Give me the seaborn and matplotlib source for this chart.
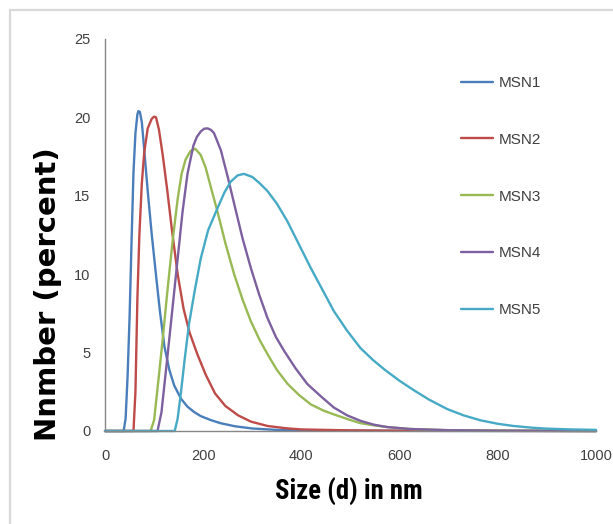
import matplotlib
matplotlib.use("Agg")
import matplotlib.pyplot as plt
import seaborn as sns
import pandas as pd
from matplotlib.patches import Rectangle
from matplotlib import font_manager

# ---- data ----
series_names = ["MSN1", "MSN2", "MSN3", "MSN4", "MSN5"]

msn1_x = [0, 38, 42, 46, 50, 54, 58, 62, 66, 68, 71, 75, 80, 87, 95, 104, 112, 121, 131,
          141, 155, 168, 182, 195, 215, 235, 265, 300, 350, 400, 500, 600, 800, 1000]
msn1_y = [0, 0, 0.8, 3.5, 7.2, 12.0, 16.5, 19.0, 20.2, 20.4, 20.35, 19.7, 17.9, 15.3, 12.6,
          9.9, 7.6, 5.4, 3.9, 2.9, 2.05, 1.55, 1.2, 0.95, 0.7, 0.5, 0.3, 0.16, 0.07, 0.04,
          0.02, 0.01, 0.0, 0.0]

msn2_x = [0, 58, 62, 66, 70, 75, 80, 87, 95, 100, 104, 110, 118, 127, 136, 148, 160, 172,
          188, 205, 224, 245, 271, 297, 331, 370, 400, 500, 600, 800, 1000]
msn2_y = [0, 0, 2.5, 8.5, 12.5, 15.8, 17.8, 19.3, 19.9, 20.05, 20.0, 19.2, 17.5, 15.3, 12.9,
          10.0, 7.8, 6.3, 4.9, 3.6, 2.4, 1.6, 1.0, 0.6, 0.32, 0.17, 0.1, 0.04, 0.02, 0.01,
          0.0]

msn3_x = [0, 93, 100, 110, 118, 127, 138, 148, 156, 164, 174, 184, 195, 205, 216, 229, 245,
          263, 280, 297, 315, 331, 350, 372, 395, 419, 445, 466, 495, 520, 550, 575, 620,
          700, 800, 1000]
msn3_y = [0, 0, 0.7, 3.6, 6.0, 8.9, 12.2, 14.8, 16.4, 17.3, 17.85, 18.0, 17.6, 16.8, 15.5,
          14.0, 12.0, 10.0, 8.4, 7.0, 5.8, 4.9, 3.9, 3.0, 2.3, 1.7, 1.3, 1.06, 0.75, 0.5,
          0.35, 0.25, 0.13, 0.05, 0.02, 0.0]

msn4_x = [0, 107, 115, 127, 138, 148, 158, 168, 180, 187, 195, 202, 209, 216, 222, 236, 250,
          263, 280, 297, 314, 331, 348, 365, 388, 412, 440, 466, 493, 521, 548, 575, 620,
          700, 800, 1000]
msn4_y = [0, 0, 1.2, 4.7, 8.0, 11.0, 14.0, 16.4, 18.2, 18.75, 19.1, 19.28, 19.3, 19.2, 19.0,
          17.9, 16.2, 14.5, 12.3, 10.4, 8.7, 7.2, 6.0, 5.1, 4.0, 3.0, 2.2, 1.5, 1.0, 0.64,
          0.4, 0.25, 0.13, 0.05, 0.02, 0.0]

msn5_x = [0, 142, 148, 155, 162, 171, 183, 195, 210, 229, 243, 256, 270, 283, 300, 315, 331,
          350, 371, 395, 419, 443, 466, 493, 520, 545, 570, 600, 629, 660, 697, 730, 765,
          800, 832, 870, 900, 950, 1000]
msn5_y = [0, 0, 0.8, 2.55, 4.5, 6.8, 9.0, 11.0, 12.8, 14.2, 15.2, 15.9, 16.3, 16.4, 16.2,
          15.8, 15.3, 14.5, 13.4, 11.9, 10.4, 9.0, 7.65, 6.4, 5.3, 4.55, 3.9, 3.2, 2.6, 2.0,
          1.4, 1.0, 0.68, 0.46, 0.32, 0.21, 0.15, 0.1, 0.07]

x_ticks = [0, 200, 400, 600, 800, 1000]
y_ticks = [0, 5, 10, 15, 20, 25]
colors = ["#4A7EBB", "#BE4B48", "#98B954", "#7D60A0", "#46AAC5"]

xs = [msn1_x, msn2_x, msn3_x, msn4_x, msn5_x]
ys = [msn1_y, msn2_y, msn3_y, msn4_y, msn5_y]
frames = []
for name, xv, yv in zip(series_names, xs, ys):
    frames.append(pd.DataFrame({"size": xv, "number": yv, "series": name}))
df = pd.concat(frames, ignore_index=True)

sns.set_style("white")
plt.rcParams["font.family"] = ["Liberation Sans", "DejaVu Sans"]


def first_font(cands):
    for c in cands:
        try:
            font_manager.findfont(font_manager.FontProperties(family=c),
                                  fallback_to_default=False)
            return c
        except Exception:
            continue
    return "DejaVu Sans"


narrow = first_font(["Liberation Sans Narrow", "Roboto Condensed", "Open Sans Condensed",
                     "Lato", "Roboto"])

fig = plt.figure(figsize=(6.13, 5.24), dpi=100)
fig.patch.set_facecolor("white")
fig.patches.append(Rectangle((10 / 613, -0.1), 1.2, 1 - 10 / 524 + 0.1,
                             transform=fig.transFigure, fill=False,
                             edgecolor="#d9d9d9", linewidth=1.6, zorder=0))

ax = fig.add_axes([105 / 613, 1 - 431 / 524, 491 / 613, 392 / 524])
sns.lineplot(data=df, x="size", y="number", hue="series", hue_order=series_names,
             palette=colors, estimator=None, sort=False, linewidth=1.7, ax=ax)
for ln in ax.lines:
    ln.set_clip_on(False)
    ln.set_solid_capstyle("round")
    ln.set_solid_joinstyle("round")

ax.set_xlim(0, 1000)
ax.set_ylim(0, 25)
ax.set_xticks(x_ticks)
ax.set_yticks(y_ticks)
ax.set_xlabel("")
ax.set_ylabel("")
for s in ["top", "right"]:
    ax.spines[s].set_visible(False)
for s in ["left", "bottom"]:
    ax.spines[s].set_color("#868686")
    ax.spines[s].set_linewidth(1.0)
ax.tick_params(axis="both", direction="out", length=4.5, width=1.0, color="#868686",
               labelsize=10.5, labelcolor="#404040")
ax.tick_params(axis="y", pad=6)
ax.tick_params(axis="x", pad=8.5)
ax.grid(False)

fig.text(48 / 613, 1 - 294 / 524, "Nnmber (percent)", rotation=90, ha="center",
         va="center", fontsize=21, fontweight="bold", family=["DejaVu Sans"], color="black")
xl = fig.text(348.4 / 613, 1 - 500 / 524, "Size (d) in nm", ha="center", va="baseline",
              fontsize=20, fontweight="bold", family=[narrow, "DejaVu Sans"],
              color="black")
# fit the x title to the measured width of the reference title (about 147 px)
fig.canvas.draw()
w = xl.get_window_extent().width
if w > 0:
    xl.set_fontsize(min(24, 20 * 147.0 / w))

leg = ax.legend(loc="upper left", bbox_to_anchor=(461 / 613, 1 - 76 / 524),
                bbox_transform=fig.transFigure, frameon=False, fontsize=11,
                handlelength=2.1, handletextpad=0.35, labelspacing=2.8,
                borderpad=0, borderaxespad=0)
for t in leg.get_texts():
    t.set_color("#404040")
for h in leg.get_lines():
    h.set_linewidth(1.7)

fig.savefig("out.png", dpi=100)
